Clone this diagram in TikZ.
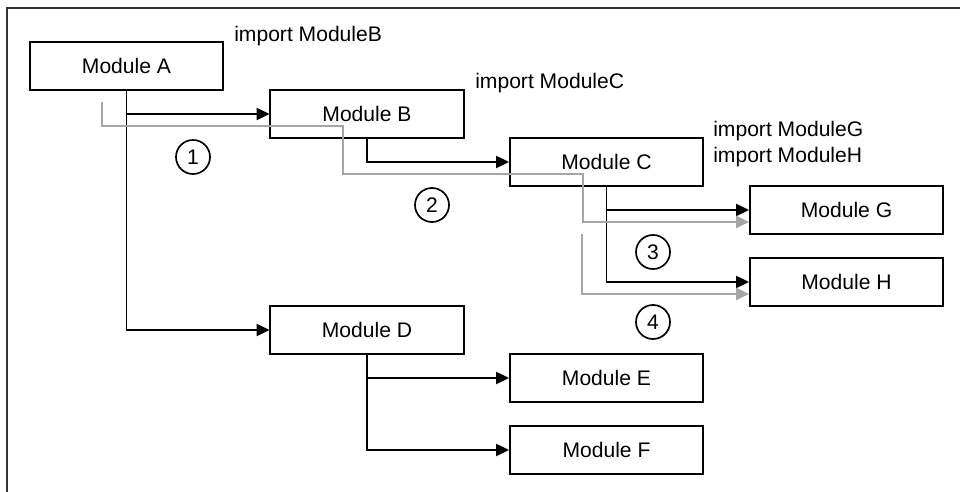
\documentclass[tikz,border=0pt]{standalone}
\usepackage{fontspec}
\setmainfont{Liberation Sans}
\usetikzlibrary{arrows.meta}

\begin{document}
\begin{tikzpicture}[x=0.025cm, y=-0.025cm,
    every node/.style={font=\fontsize{15pt}{18pt}\selectfont},
    module/.style={draw, line width=1.4pt, minimum width=4.825cm, minimum height=1.2cm, inner sep=0pt},
    link/.style={line width=1.3pt, -{Triangle[length=3.2mm,width=3mm]}},
    route/.style={line width=1.4pt, gray!70, -{Triangle[length=3.2mm,width=3mm]}},
    order/.style={draw, circle, line width=1.2pt, minimum size=0.85cm, inner sep=0pt},
    note/.style={anchor=west, inner sep=0pt, align=left}]
    \useasboundingbox (0,0) rectangle (960,492);

    % Frame (top and left edge only)
    \draw[line width=1.3pt, black!80] (7,492) -- (7,8) -- (960,8);

    % Modules
    \node[module] (A) at (126.5,66) {Module A};
    \node[module] (B) at (367,114) {Module B};
    \node[module] (C) at (606.5,162) {Module C};
    \node[module] (G) at (846.5,210) {Module G};
    \node[module] (H) at (846.5,282) {Module H};
    \node[module] (D) at (367,330) {Module D};
    \node[module] (E) at (606.5,378) {Module E};
    \node[module] (F) at (606.5,450) {Module F};

    % Import statements
    \node[note] (impB) at (234,36) {import ModuleB};
    \node[note] (impC) at (475,83) {import ModuleC};
    \node[note] (impGH) at (713,144) {import ModuleG\\import ModuleH};

    % Dependencies
    \draw[link] (A.south) |- (D.west);
    \draw[link] (A.south |- B.west) -- (B.west);
    \draw[link] (B.south) |- (C.west);
    \draw[link] (C.south) |- (H.west);
    \draw[link] (C.south |- G.west) -- (G.west);
    \draw[link] (D.south) |- (F.west);
    \draw[link] (D.south |- E.west) -- (E.west);

    % Load order (gray)
    \coordinate (r1) at (102,102);
    \coordinate (r2) at (582,234);
    \draw[route] (r1) |- (343,126) |- (583,174) |- ([yshift=-0.3cm]G.west);
    \draw[route] (r2) |- ([yshift=-0.3cm]H.west);

    % Step numbers
    \node[order] (s1) at (193,157) {1};
    \node[order] (s2) at (432,205) {2};
    \node[order] (s3) at (653,252) {3};
    \node[order] (s4) at (653,322) {4};
\end{tikzpicture}
\end{document}
